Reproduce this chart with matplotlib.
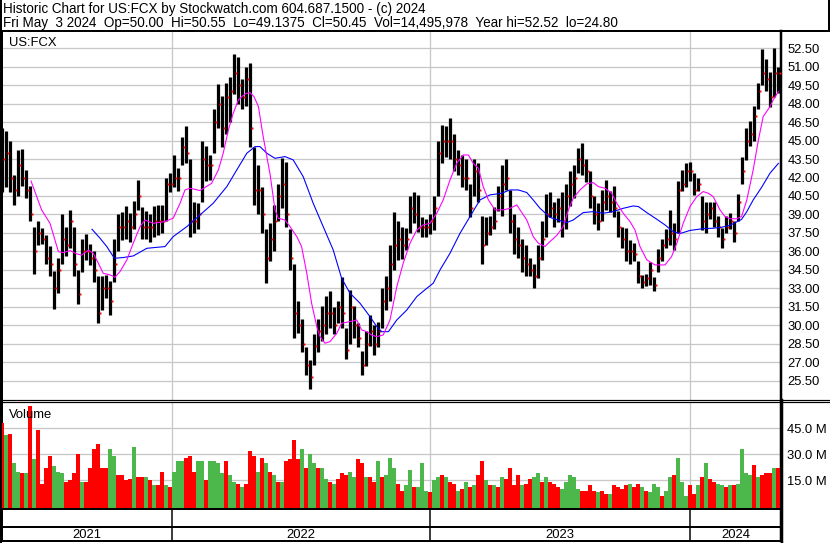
import numpy as np
import matplotlib.pyplot as plt

plt.rcParams['font.family'] = ['Liberation Sans', 'DejaVu Sans']

title_1 = "Historic Chart for US:FCX by Stockwatch.com 604.687.1500 - (c) 2024"
title_2 = ("Fri May  3 2024  Op=50.00  Hi=50.55  Lo=49.1375  Cl=50.45  "
           "Vol=14,495,978  Year hi=52.52  lo=24.80")
symbol = "US:FCX"

# one bar per ~4 trading days, May 2021 .. May 3 2024
high = [46.0, 45.8, 45.0, 42.2, 44.2, 44.3, 42.6, 41.3, 38.0, 38.5,
        37.9, 37.3, 36.4, 34.4, 35.5, 39.0, 38.0, 39.4, 38.0, 34.5,
        37.0, 37.4, 36.6, 36.0, 34.0, 34.0, 34.1, 33.6, 37.0, 39.0,
        39.2, 39.7, 39.1, 40.1, 41.8, 39.6, 39.3, 39.0, 39.7, 39.8,
        39.8, 42.0, 42.4, 43.8, 42.8, 45.3, 46.2, 43.5, 40.0, 39.9,
        45.0, 44.6, 43.8, 47.6, 49.6, 48.6, 49.7, 50.2, 52.0, 51.8,
        50.0, 51.0, 51.3, 44.5, 43.0, 41.2, 37.8, 38.3, 39.8, 41.5,
        43.6, 43.3, 37.8, 35.0, 32.0, 30.5, 28.2, 27.2, 29.3, 30.5,
        31.6, 32.4, 32.8, 31.5, 32.0, 33.9, 29.8, 32.9, 31.6, 30.2,
        27.9, 29.5, 30.8, 30.0, 30.3, 33.0, 34.0, 36.5, 39.2, 38.5,
        38.0, 37.9, 40.5, 40.8, 40.6, 38.8, 38.6, 39.0, 40.5, 45.0,
        46.3, 46.2, 46.8, 45.5, 44.2, 43.8, 43.5, 41.5, 43.5, 43.2,
        38.9, 38.8, 38.9, 39.6, 41.3, 43.0, 43.5, 41.0, 39.0, 38.0,
        37.0, 36.5, 35.5, 35.0, 36.5, 38.5, 40.7, 40.8, 40.0, 40.3,
        40.8, 41.5, 42.5, 43.0, 44.4, 44.8, 43.5, 42.5, 40.5, 39.9,
        41.0, 41.8, 40.9, 41.3, 39.3, 38.0, 37.9, 36.9, 36.7, 35.2,
        34.1, 34.2, 35.1, 33.9, 36.2, 37.0, 37.8, 39.4, 38.3, 41.7,
        42.6, 43.2, 43.3, 42.4, 42.0, 40.5, 40.0, 40.0, 40.0, 38.9,
        37.9, 38.9, 39.1, 38.5, 40.7, 43.7, 46.0, 46.6, 47.8, 49.7,
        52.4, 51.6, 50.6, 52.5, 51.0]
low = [40.8, 41.2, 40.8, 39.8, 40.5, 41.3, 40.3, 38.5, 34.2, 36.5,
       36.6, 35.0, 34.0, 31.3, 32.6, 35.0, 35.6, 36.3, 34.0, 31.7,
       34.3, 35.3, 34.9, 33.5, 30.2, 31.2, 32.2, 30.8, 33.5, 36.0,
       36.9, 37.0, 36.8, 37.8, 39.4, 37.0, 37.0, 36.8, 37.2, 37.3,
       37.5, 38.5, 40.8, 41.2, 40.9, 43.0, 43.2, 37.2, 37.5, 37.8,
       40.0, 41.7, 41.8, 44.0, 46.0, 44.5, 45.5, 46.5, 48.8, 48.0,
       47.6, 47.8, 44.5, 39.8, 39.0, 37.5, 33.4, 35.2, 36.0, 38.5,
       39.5, 38.0, 34.5, 29.0, 29.4, 27.8, 26.0, 24.8, 26.8, 27.8,
       28.7, 29.3, 29.8, 29.3, 30.2, 29.8, 27.3, 28.5, 29.0, 28.2,
       26.0, 26.7, 28.3, 27.6, 28.2, 29.8, 31.2, 32.0, 34.5, 35.3,
       35.4, 36.1, 37.5, 38.3, 37.6, 37.2, 37.2, 37.4, 37.7, 40.5,
       43.2, 43.7, 43.5, 42.5, 42.2, 41.2, 41.0, 38.8, 40.5, 40.0,
       35.0, 36.5, 37.3, 37.8, 39.3, 38.9, 41.0, 37.5, 35.8, 35.5,
       34.3, 34.0, 34.0, 33.0, 33.8, 35.3, 37.2, 38.8, 38.0, 38.4,
       37.2, 37.8, 39.7, 40.3, 42.4, 42.2, 41.6, 39.5, 38.2, 37.7,
       38.5, 39.4, 39.2, 38.8, 37.2, 36.3, 35.2, 35.0, 35.2, 33.4,
       33.0, 33.2, 33.3, 32.8, 34.3, 35.2, 36.3, 36.5, 36.1, 37.5,
       40.9, 41.2, 41.7, 40.6, 40.9, 37.7, 37.5, 38.6, 38.0, 37.2,
       36.3, 37.5, 37.8, 36.8, 38.5, 41.5, 43.4, 44.6, 45.0, 47.6,
       49.5, 49.0, 47.7, 48.5, 48.9]
close = [43.5, 44.0, 42.0, 41.0, 43.0, 42.0, 41.0, 39.0, 36.0, 37.5,
         37.0, 35.5, 35.0, 33.0, 34.5, 37.0, 36.5, 38.5, 35.0, 32.5,
         36.0, 36.0, 35.5, 34.5, 31.0, 33.0, 33.0, 32.0, 35.0, 38.0,
         38.0, 38.5, 38.0, 39.0, 40.5, 38.0, 38.0, 38.0, 38.5, 38.5,
         38.5, 41.5, 41.5, 42.0, 42.0, 44.5, 44.0, 38.5, 38.5, 39.0,
         43.5, 43.0, 43.0, 46.5, 48.0, 46.0, 48.5, 49.0, 50.5, 49.5,
         48.5, 50.0, 46.0, 41.0, 41.0, 39.0, 35.5, 37.0, 38.5, 40.5,
         41.5, 39.0, 35.5, 31.0, 30.0, 28.5, 26.8, 25.8, 28.3, 29.5,
         30.0, 31.0, 31.0, 30.0, 31.5, 31.0, 28.0, 31.5, 30.0, 29.0,
         26.8, 28.5, 29.5, 28.5, 29.5, 32.0, 33.0, 35.0, 36.5, 37.0,
         36.5, 37.0, 39.5, 39.0, 38.0, 38.0, 38.0, 38.5, 39.5, 44.0,
         45.0, 45.0, 45.0, 43.5, 43.0, 42.0, 42.0, 39.5, 42.5, 41.0,
         36.5, 37.5, 38.0, 38.5, 40.5, 41.5, 42.0, 38.5, 37.0, 36.5,
         35.5, 35.0, 34.5, 34.0, 35.5, 37.0, 39.0, 39.5, 39.0, 39.5,
         38.5, 40.5, 41.5, 42.0, 43.5, 43.0, 42.5, 40.5, 39.0, 38.5,
         40.0, 40.5, 40.0, 39.5, 38.0, 37.0, 36.0, 36.0, 35.8, 34.0,
         33.5, 33.8, 34.5, 33.3, 35.5, 36.5, 37.0, 37.5, 37.0, 41.0,
         41.5, 42.5, 42.5, 41.0, 41.5, 38.5, 39.0, 39.5, 38.5, 38.0,
         37.0, 38.0, 38.5, 37.5, 40.0, 42.5, 45.0, 45.5, 47.0, 49.0,
         50.5, 50.0, 48.5, 50.5, 50.45]
volume_m = [48, 41, 42, 25, 20, 19, 19, 58, 27, 44,
            13, 22, 29, 23, 20, 19, 14, 15, 19, 30,
            14, 14, 22, 33, 36, 22, 22, 33, 29, 18,
            18, 15, 16, 34, 17, 17, 17, 15, 12, 12,
            20, 12, 11, 20, 26, 26, 28, 29, 20, 26,
            26, 15, 26, 26, 25, 19, 26, 18, 14, 13,
            11, 13, 32, 29, 20, 28, 25, 20, 18, 14,
            14, 26, 27, 38, 27, 33, 22, 30, 25, 22,
            22, 16, 14, 13, 16, 19, 18, 20, 17, 27,
            25, 17, 17, 14, 26, 17, 18, 28, 22, 13,
            9, 12, 21, 11, 11, 25, 9, 8, 15, 17,
            18, 17, 14, 13, 9, 10, 14, 11, 12, 18,
            26, 15, 12, 12, 11, 17, 16, 22, 12, 18,
            12, 13, 16, 17, 19, 14, 17, 14, 13, 11,
            10, 14, 18, 17, 10, 9, 9, 12, 9, 8,
            9, 7, 7, 12, 11, 10, 12, 13, 11, 13,
            11, 9, 8, 13, 11, 6, 9, 17, 18, 28,
            14, 6, 12, 7, 12, 17, 25, 16, 14, 13,
            12, 11, 12, 12, 13, 33, 19, 18, 24, 17,
            18, 19, 19, 22, 22]
vol_dir = ("rgrggrgrgr" "rrrgggrrrr" "grrrrrrggr" "rrrgrrgrgr" "rgrgggrrrg"
           "grggggrggr" "grrrgrgrgr" "grrrrgrggr" "ggrgrrrggr" "rgrrgrgggr"
           "rggrgggrgg" "rgrrgrgrgr" "rgrgrgrrrr" "grrggrgrrr" "gggggrrrrg"
           "rrgrrrrgrr" "grgggrggrg" "ggrrgrgrrg" "grgrggggrg" "rrrgr")

# moving averages: bar position, value
ma_fast_pos = [7.25, 9.9, 12.0, 14.1, 15.3, 17.0, 18.7, 19.9, 21.6, 22.8,
               24.1, 25.3, 27.0, 28.25, 29.5, 31.2, 32.8, 34.5, 35.75, 37.8,
               40.75, 42.8, 44.5, 45.75, 47.0, 49.5, 52.4, 54.1, 55.3, 56.6,
               57.8, 59.1, 60.75, 62.0, 63.0, 64.1, 65.3, 67.0, 68.25, 69.1,
               70.75, 72.0, 73.7, 74.9, 76.2, 77.4, 78.7, 79.5, 80.75, 82.0,
               83.7, 84.9, 87.0, 88.7, 89.9, 91.2, 92.4, 93.7, 95.3, 97.0,
               98.7, 100.3, 102.0, 103.7, 105.3, 107.0, 108.7, 110.3, 112.0, 113.7,
               115.3, 116.6, 117.8, 119.1, 120.3, 121.6, 123.25, 125.3, 127.0, 128.7,
               129.5, 131.2, 132.8, 134.1, 135.75, 137.0, 138.7, 140.3, 141.6, 142.8,
               144.5, 146.2, 147.8, 149.1, 150.75, 152.4, 153.7, 155.3, 157.0, 158.25,
               159.5, 161.2, 163.25, 165.75, 167.4, 168.7, 170.3, 172.0, 173.7, 175.3,
               176.6, 177.8, 179.5, 180.75, 182.0, 183.7, 184.9, 186.2, 187.8, 189.1,
               190.3, 192.0, 192.8, 194.1]
ma_fast = [41.72, 39.37, 38.28, 35.98, 35.9, 36.06, 35.8, 35.7, 36.1, 35.85,
           35.03, 34.22, 34.09, 33.9, 34.36, 35.3, 36.66, 38.0, 38.55, 38.28,
           38.42, 38.7, 39.9, 40.99, 41.13, 40.94, 41.53, 42.62, 43.97, 45.87,
           47.22, 48.3, 48.79, 48.9, 48.57, 47.76, 45.32, 42.3, 39.37, 38.69,
           38.55, 38.01, 37.2, 36.39, 34.22, 31.79, 29.89, 29.08, 28.54, 28.67,
           29.35, 30.16, 30.3, 30.43, 29.62, 29.48, 29.21, 29.08, 29.21, 30.43,
           33.14, 35.03, 36.66, 37.74, 38.15, 38.28, 39.1, 40.18, 41.8, 43.16,
           43.83, 43.83, 43.16, 42.75, 41.26, 40.18, 39.37, 39.37, 39.5, 39.77,
           39.37, 38.55, 37.2, 36.66, 36.4, 36.8, 37.3, 38.01, 39.37, 40.31,
           40.99, 41.48, 41.59, 41.26, 41.13, 40.72, 39.91, 39.1, 38.42, 37.74,
           36.39, 35.31, 34.9, 34.9, 35.58, 36.66, 38.28, 39.64, 40.45, 40.86,
           40.72, 40.45, 39.37, 38.83, 38.65, 38.65, 38.83, 40.18, 42.62, 45.05,
           46.95, 47.76, 48.3, 48.98]
ma_slow_pos = [22.5, 24.5, 26.2, 28.1, 30.3, 32.8, 36.2, 38.7, 40.75, 42.8,
               46.2, 49.5, 52.8, 56.2, 58.7, 61.2, 63.25, 64.5, 66.2, 68.25,
               70.75, 72.8, 75.3, 77.8, 80.3, 82.8, 84.9, 87.0, 89.5, 92.0,
               93.7, 94.9, 96.6, 98.7, 101.2, 103.7, 106.2, 107.8, 109.5, 112.0,
               114.5, 117.0, 119.5, 122.0, 124.9, 127.0, 129.1, 131.2, 132.8, 134.5,
               137.0, 139.5, 141.2, 142.8, 145.3, 147.8, 150.3, 152.8, 155.3, 157.8,
               159.1, 161.2, 163.7, 165.75, 167.8, 169.5, 172.0, 175.3, 177.8, 179.9,
               182.0, 184.9, 186.2, 187.8, 189.9, 192.0, 194.1]
ma_slow = [37.8, 37.07, 36.39, 35.44, 35.5, 35.63, 36.25, 36.33, 36.39, 37.2,
           38.01, 38.96, 39.91, 41.26, 42.62, 43.97, 44.51, 44.51, 43.97, 43.56,
           43.7, 43.43, 42.07, 39.91, 38.01, 36.12, 33.82, 32.6, 31.79, 30.7,
           29.89, 29.48, 29.48, 30.43, 31.24, 32.33, 33.0, 33.41, 34.49, 35.85,
           37.47, 38.83, 40.18, 40.59, 40.72, 40.99, 40.99, 40.78, 40.18, 39.5,
           38.76, 38.5, 38.34, 38.55, 39.15, 39.23, 39.1, 39.23, 39.5, 39.69,
           39.64, 39.15, 38.61, 38.15, 37.6, 37.45, 37.7, 37.85, 37.88, 37.96,
           38.12, 38.6, 39.23, 40.18, 41.2, 42.35, 43.15]

years = ["2021", "2022", "2023", "2024"]
year_edges = [42.5, 107, 172]   # bar positions where 2022, 2023, 2024 begin

price_ticks = [25.5 + 1.5 * k for k in range(19)]
vol_ticks = [15, 30, 45]

W, H = 830, 543
PX = 0.72   # one pixel in points
FS = 9.4

fig = plt.figure(figsize=(W / 100, H / 100), dpi=100)


def box(l, t, r, b):
    return [l / W, 1 - b / H, (r - l) / W, (b - t) / H]


n = len(high)
x = np.arange(n)
x_max = n - 0.25
grid_c = '#c8c8c8'

# price panel
ax = fig.add_axes(box(2, 31, 781, 400))
ax.set_axisbelow(True)
ax.vlines(x, low, high, color='black', lw=3.2 * PX, zorder=3)
ax.plot(x + 0.45, close, 's', color='red', ms=1.4, mew=0, zorder=4)
ax.plot(ma_slow_pos, ma_slow, color='#0000ff', lw=1.1 * PX, zorder=5)
ax.plot(ma_fast_pos, ma_fast, color='#ff00ff', lw=1.1 * PX, zorder=5)
ax.set_xlim(0, x_max)
ax.set_ylim(23.93, 53.9)
ax.set_yticks(price_ticks)
ax.set_yticklabels([f"{t:.2f}" for t in price_ticks])
ax.yaxis.tick_right()
ax.tick_params(axis='y', length=0, pad=4.5, labelsize=FS)
ax.tick_params(axis='x', length=0, labelbottom=False)
ax.grid(axis='y', color=grid_c, lw=1.3 * PX)
for e in year_edges:
    ax.axvline(e, color=grid_c, lw=1.3 * PX, zorder=0)

# volume panel
axv = fig.add_axes(box(2, 402, 781, 509), sharex=ax)
axv.set_axisbelow(True)
vcol = ['#ff0000' if d == 'r' else '#4cb84c' for d in vol_dir]
floor = -1.6
axv.bar(x, np.array(volume_m) - floor, bottom=floor, width=0.88, color=vcol,
        linewidth=0, zorder=3)
axv.set_ylim(floor, 60.2)
axv.set_yticks(vol_ticks)
axv.set_yticklabels([f"{t:.1f} M" for t in vol_ticks])
axv.yaxis.tick_right()
axv.tick_params(axis='y', length=0, pad=4.5, labelsize=FS)
axv.tick_params(axis='x', length=0, labelbottom=False)
axv.grid(axis='y', color=grid_c, lw=1.3 * PX)
for e in year_edges:
    axv.axvline(e, color=grid_c, lw=1.3 * PX, zorder=0)

# year strip
axy = fig.add_axes(box(2, 509, 781, 541), sharex=ax)
axy.set_ylim(0, 32)
axy.axhline(14, color='black', lw=2 * PX)
for e in year_edges:
    axy.axvline(e, color='black', lw=1.5 * PX)
edges = [0] + year_edges + [x_max]
for i, yr in enumerate(years):
    axy.text((edges[i] + edges[i + 1]) / 2, 6.5, yr, ha='center', va='center',
             fontsize=FS)
axy.set_yticks([])
axy.tick_params(axis='x', length=0, labelbottom=False)

for a in (ax, axv, axy):
    for s in a.spines.values():
        s.set_color('black')
    a.spines['left'].set_linewidth(2 * PX)
    a.spines['right'].set_linewidth(2.5 * PX)
ax.spines['top'].set_linewidth(2 * PX)
ax.spines['bottom'].set_linewidth(1.2 * PX)
axv.spines['top'].set_linewidth(1.2 * PX)
axv.spines['bottom'].set_linewidth(2 * PX)
axy.spines['top'].set_linewidth(2 * PX)
axy.spines['bottom'].set_linewidth(2 * PX)

# frame and captions in pixel coordinates
ov = fig.add_axes([0, 0, 1, 1], zorder=10)
ov.set_xlim(0, W)
ov.set_ylim(H, 0)
ov.axis('off')
ov.patch.set_alpha(0)
ov.plot([1, 1], [0, H], color='black', lw=2 * PX)
ov.plot([828.5, 828.5], [0, 31], color='black', lw=2 * PX)
ov.plot([0, W], [30.5, 30.5], color='black', lw=2 * PX)
ov.plot([781, W], [400, 400], color='black', lw=1.2 * PX)
ov.plot([781, W], [402, 402], color='black', lw=1.2 * PX)
ov.plot([781.5, 781.5], [400, 543], color='black', lw=2.5 * PX)
ov.text(3, 12.5, title_1, fontsize=9.75, va='baseline')
ov.text(3, 26.5, title_2, fontsize=9.75, va='baseline')
ov.text(9, 45.5, symbol, fontsize=FS, va='baseline')
ov.text(9, 418, "Volume", fontsize=FS, va='baseline')

fig.savefig('out.png', dpi=100)
